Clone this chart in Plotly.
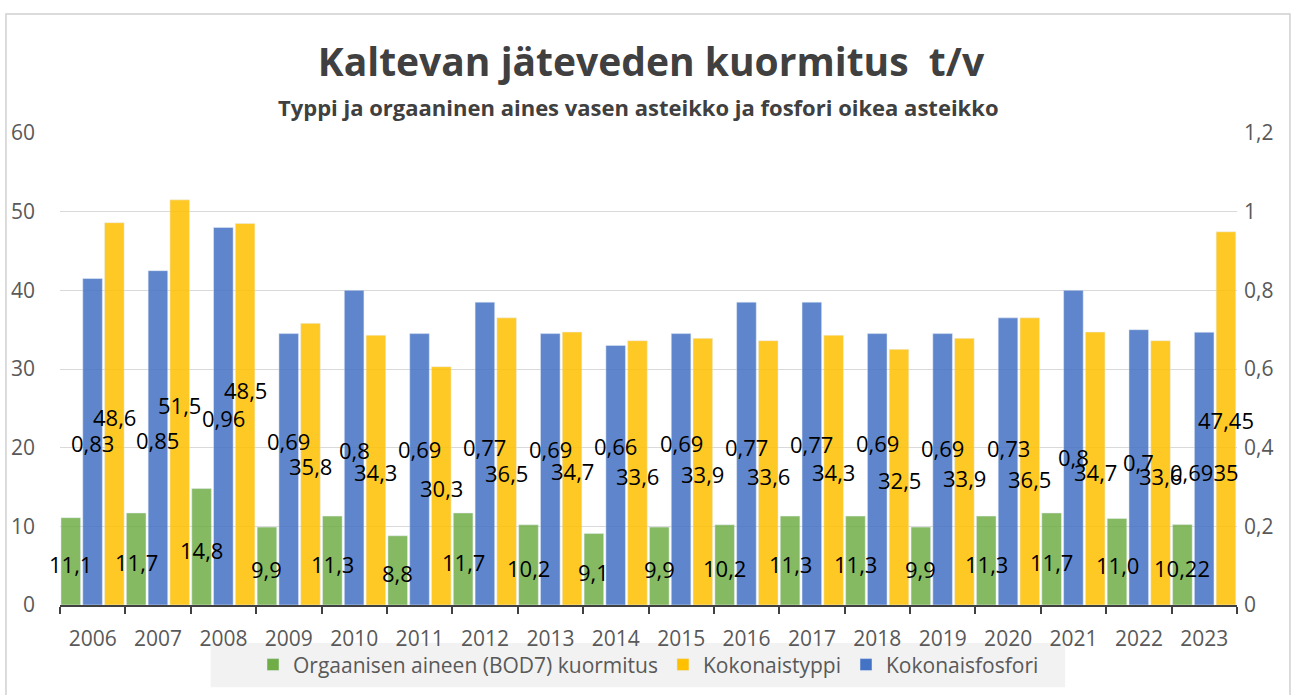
import plotly.graph_objects as go

years = [str(y) for y in range(2006, 2024)]
bod7 = [11.1, 11.7, 14.8, 9.9, 11.3, 8.8, 11.7, 10.2, 9.1, 9.9, 10.2, 11.3, 11.3, 9.9, 11.3, 11.7, 11.0, 10.22]
typpi = [48.6, 51.5, 48.5, 35.8, 34.3, 30.3, 36.5, 34.7, 33.6, 33.9, 33.6, 34.3, 32.5, 33.9, 36.5, 34.7, 33.6, 47.45]
fosfori = [0.83, 0.85, 0.96, 0.69, 0.8, 0.69, 0.77, 0.69, 0.66, 0.69, 0.77, 0.77, 0.69, 0.69, 0.73, 0.8, 0.7, 0.6935]

names = ["Orgaanisen aineen (BOD7) kuormitus", "Kokonaistyppi", "Kokonaisfosfori"]
colors = ["#70AD47", "#FFC000", "#4472C4"]

# manual data-label nudges (pixels downward from bar centre), as placed in the original
dy_bod7 = [3] * 18
dy_typpi = [3, 3, -24, 2, 2, 2, 12, 2, 3, 2, 3, 2, 3, 6, 18, 3, 3, 2]
dy_fosfori = [1, 2, 2, -28, 2, -20, -7, -20, -29, -26, -7, -10, -26, -21, -13, 9, -5, 3]

def lbl(v):
    return str(v).replace(".", ",")

FONT = "Open Sans"
W = 0.30
OFF_G, OFF_B, OFF_Y = -0.485, -0.152, 0.181

fig = go.Figure()
fig.add_trace(go.Bar(x=years, y=bod7, name=names[0], width=W, offset=OFF_G,
                     marker=dict(color=colors[0], opacity=0.85), yaxis="y"))
fig.add_trace(go.Bar(x=years, y=typpi, name=names[1], width=W, offset=OFF_Y,
                     marker=dict(color=colors[1], opacity=0.85), yaxis="y"))
fig.add_trace(go.Bar(x=years, y=fosfori, name=names[2], width=W, offset=OFF_B,
                     marker=dict(color=colors[2], opacity=0.85), yaxis="y2"))

annotations = []
for vals, off, yref, dys in [(bod7, OFF_G, "y", dy_bod7), (typpi, OFF_Y, "y", dy_typpi),
                             (fosfori, OFF_B, "y2", dy_fosfori)]:
    for i, v in enumerate(vals):
        annotations.append(dict(x=i + off + W / 2, y=v / 2, xref="x", yref=yref, text=lbl(v),
                                showarrow=False, xanchor="center", yanchor="middle",
                                yshift=-dys[i], font=dict(family=FONT, size=22, color="#000000")))

annotations.append(dict(text="<b>Typpi ja orgaaninen aines vasen asteikko ja fosfori oikea asteikko</b>",
                        xref="paper", yref="paper", x=0.4915, y=1.055, showarrow=False,
                        xanchor="center", yanchor="middle",
                        font=dict(family=FONT, size=22, color="#404040")))

tickfont = dict(family=FONT, size=21, color="#595959")

fig.update_layout(
    width=1298, height=695,
    separators=", ",
    paper_bgcolor="white", plot_bgcolor="white",
    margin=dict(l=60, r=61, t=133, b=90, autoexpand=False),
    barmode="overlay",
    title=dict(text="<b>Kaltevan jäteveden kuormitus  t/v</b>", xref="container", x=0.5015,
               yref="container", y=0.911, yanchor="middle", xanchor="center",
               font=dict(family=FONT, size=39, color="#404040")),
    xaxis=dict(type="category", range=[-0.5, 17.5], showline=True, linecolor="#404040", linewidth=2,
               ticks="outside", tickson="boundaries", ticklen=7, tickwidth=2, tickcolor="#404040",
               tickfont=tickfont, showgrid=False, ticklabelstandoff=14),
    yaxis=dict(range=[0, 60], dtick=10, showgrid=True, gridcolor="#d9d9d9", gridwidth=1,
               zeroline=False, tickfont=tickfont, ticklabelstandoff=24, showline=False),
    yaxis2=dict(range=[0, 1.2], dtick=0.2, overlaying="y", side="right", showgrid=False,
                zeroline=False, tickfont=tickfont, ticklabelstandoff=6),
    legend=dict(orientation="h", x=0.5, xanchor="center", y=-0.127, yanchor="middle",
                bgcolor="rgba(0,0,0,0)", font=dict(family=FONT, size=21, color="#595959"),
                traceorder="normal"),
    annotations=annotations,
    shapes=[
        dict(type="rect", xref="paper", yref="paper", x0=0.128, x1=0.854, y0=-0.174, y1=-0.0805,
             fillcolor="#f2f2f2", line=dict(width=0), layer="below"),
        dict(type="rect", xref="paper", yref="paper", x0=-0.0459, x1=1.045, y0=-0.25, y1=1.252,
             fillcolor="rgba(0,0,0,0)", line=dict(color="#d0d0d0", width=1.5), layer="below"),
    ],
)

fig.write_html("out.html", config={"displayModeBar": False},
               post_script="document.body.style.margin='0px';")
